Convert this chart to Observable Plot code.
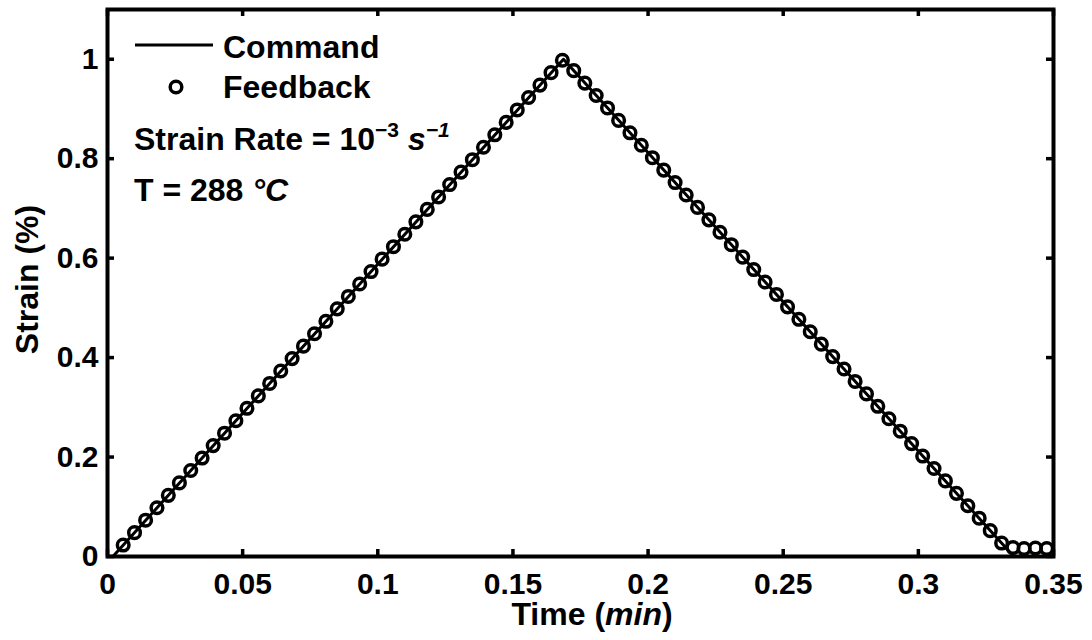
<!DOCTYPE html>
<html><head><meta charset="utf-8">
<script src="https://cdn.jsdelivr.net/npm/d3@7"></script>
<script src="https://cdn.jsdelivr.net/npm/@observablehq/plot@0.6"></script>
<style>
html,body{margin:0;padding:0;background:#fff;}
#chart svg{display:block;}
</style></head><body><div id="chart"></div>
<script>
// ---- data ----
const commandTime   = [0.002, 0.1687, 0.3353, 0.35];
const commandStrain = [0, 1, 0, 0];

const feedbackTime = [
  0.0058, 0.0100, 0.0141, 0.0183, 0.0225, 0.0266, 0.0308, 0.0350, 0.0391, 0.0433,
  0.0475, 0.0516, 0.0558, 0.0600, 0.0641, 0.0683, 0.0725, 0.0766, 0.0808, 0.0850,
  0.0891, 0.0933, 0.0975, 0.1016, 0.1058, 0.1100, 0.1141, 0.1183, 0.1225, 0.1266,
  0.1308, 0.1350, 0.1391, 0.1433, 0.1475, 0.1516, 0.1558, 0.1600, 0.1641, 0.1683,
  0.1725, 0.1766, 0.1808, 0.1850, 0.1891, 0.1933, 0.1975, 0.2016, 0.2058, 0.2100,
  0.2141, 0.2183, 0.2225, 0.2266, 0.2308, 0.2350, 0.2391, 0.2433, 0.2475, 0.2516,
  0.2558, 0.2600, 0.2641, 0.2683, 0.2725, 0.2766, 0.2808, 0.2850, 0.2891, 0.2933,
  0.2975, 0.3016, 0.3058, 0.3100, 0.3141, 0.3183, 0.3225, 0.3266, 0.3308, 0.3350,
  0.3391, 0.3433, 0.3475
];
const feedbackStrain = [
  0.023, 0.048, 0.073, 0.098, 0.123, 0.148, 0.173, 0.198, 0.223, 0.248,
  0.273, 0.298, 0.323, 0.348, 0.373, 0.398, 0.423, 0.448, 0.473, 0.498,
  0.523, 0.548, 0.573, 0.598, 0.623, 0.648, 0.673, 0.698, 0.723, 0.748,
  0.773, 0.798, 0.823, 0.848, 0.873, 0.898, 0.923, 0.948, 0.973, 0.998,
  0.977, 0.952, 0.927, 0.902, 0.877, 0.852, 0.827, 0.802, 0.777, 0.752,
  0.727, 0.702, 0.677, 0.652, 0.627, 0.602, 0.577, 0.552, 0.527, 0.502,
  0.477, 0.452, 0.427, 0.402, 0.377, 0.352, 0.327, 0.302, 0.277, 0.252,
  0.227, 0.202, 0.177, 0.152, 0.127, 0.102, 0.077, 0.052, 0.027, 0.018,
  0.016, 0.017, 0.016
];

const xTicks = [0, 0.05, 0.1, 0.15, 0.2, 0.25, 0.3, 0.35];
const xTickLabels = ["0", "0.05", "0.1", "0.15", "0.2", "0.25", "0.3", "0.35"];
const yTicks = [0, 0.2, 0.4, 0.6, 0.8, 1];
const yTickLabels = ["0", "0.2", "0.4", "0.6", "0.8", "1"];

const legendLabels = ["Command", "Feedback"];
const xLabelParts = [{t: "Time ("}, {t: "min", i: true}, {t: ")"}];
const yLabelParts = [{t: "Strain (%)"}];
const rateParts = [{t: "Strain Rate = 10"}, {t: "\u22123", sup: true}, {t: " "}, {t: "s", i: true}, {t: "\u22121", sup: true, i: true}];
const tempParts = [{t: "T = 288 "}, {t: "\u00B0C", i: true}];

// ---- build tables ----
const command = commandTime.map((t, k) => ({t, s: commandStrain[k]}));
const feedback = feedbackTime.map((t, k) => ({t, s: feedbackStrain[k]}));

const FONT = "'Liberation Sans', Arial, Helvetica, sans-serif";
const FS = 30;     // tick labels
const FS2 = 32;    // legend, annotations, axis titles
const W = 1092, H = 640, mL = 107, mR = 39, mT = 9, mB = 84;
const plotW = W - mL - mR, plotH = H - mT - mB;
const TICK = 7;

function rich(g, x, y, parts, attrs = {}) {
  const text = g.append("text").attr("x", x).attr("y", y);
  for (const [k, v] of Object.entries(attrs)) text.attr(k, v);
  let raised = false;
  for (const p of parts) {
    const ts = text.append("tspan").text(p.t);
    if (p.i) ts.attr("font-style", "italic");
    if (p.sup) {
      ts.attr("font-size", 21);
      if (!raised) { ts.attr("dy", -13); raised = true; }
    } else if (raised) {
      ts.attr("dy", 13); raised = false;
    }
  }
  return text;
}

function annotations(index, scales, values, dims) {
  const g = d3.create("svg:g")
    .attr("font-family", FONT).attr("font-weight", "bold")
    .attr("font-size", FS2).attr("fill", "black").attr("text-anchor", "start");
  const x0 = dims.marginLeft, y0 = dims.marginTop;
  // legend
  g.append("line")
    .attr("x1", x0 + 28).attr("x2", x0 + 106)
    .attr("y1", y0 + 36).attr("y2", y0 + 36)
    .attr("stroke", "black").attr("stroke-width", 3);
  g.append("circle")
    .attr("cx", x0 + 69).attr("cy", y0 + 78).attr("r", 5.8)
    .attr("fill", "none").attr("stroke", "black").attr("stroke-width", 3.5);
  g.append("text").attr("x", x0 + 116).attr("y", y0 + 49).text(legendLabels[0]);
  g.append("text").attr("x", x0 + 116).attr("y", y0 + 89).text(legendLabels[1]);
  // annotations
  rich(g, x0 + 27, y0 + 141, rateParts);
  rich(g, x0 + 27, y0 + 192, tempParts);
  // axis titles
  const cx = dims.marginLeft + (dims.width - dims.marginLeft - dims.marginRight) / 2;
  const cy = dims.marginTop + (dims.height - dims.marginTop - dims.marginBottom) / 2;
  rich(g, cx + 12, dims.height - 15, xLabelParts, {"text-anchor": "middle"});
  rich(g, 0, 0, yLabelParts, {"text-anchor": "middle", transform: `translate(38,${cy - 3}) rotate(-90)`});
  return g.node();
}

const chart = Plot.plot({
  width: W, height: H,
  marginLeft: mL, marginRight: mR, marginTop: mT, marginBottom: mB,
  style: {fontFamily: FONT, fontSize: FS + "px", fontWeight: "bold", background: "white", color: "black"},
  x: {domain: [0, 0.35], label: null},
  y: {domain: [0, 1.1], label: null},
  marks: [
    Plot.line(command, {x: "t", y: "s", stroke: "black", strokeWidth: 3}),
    Plot.dot(feedback, {x: "t", y: "s", r: 5.8, stroke: "black", strokeWidth: 3.5, fill: "none"}),
    Plot.tickX(xTicks, {x: d => d, insetTop: plotH - TICK, stroke: "black", strokeWidth: 3.5}),
    Plot.tickX(xTicks, {x: d => d, insetBottom: plotH - TICK, stroke: "black", strokeWidth: 3.5}),
    Plot.tickY(yTicks, {y: d => d, insetRight: plotW - TICK, stroke: "black", strokeWidth: 3.5}),
    Plot.tickY(yTicks, {y: d => d, insetLeft: plotW - TICK, stroke: "black", strokeWidth: 3.5}),
    Plot.frame({stroke: "black", strokeWidth: 4}),
    Plot.axisX({ticks: xTicks, tickFormat: d => xTickLabels[xTicks.indexOf(d)], tickSize: 0, tickPadding: 16,
      fontSize: FS, fontWeight: "bold", label: null}),
    Plot.axisY({ticks: yTicks, tickFormat: d => yTickLabels[yTicks.indexOf(d)], tickSize: 0, tickPadding: 9,
      fontSize: FS, fontWeight: "bold", label: null}),
    annotations
  ]
});
document.getElementById("chart").appendChild(chart);
</script>
</body></html>
